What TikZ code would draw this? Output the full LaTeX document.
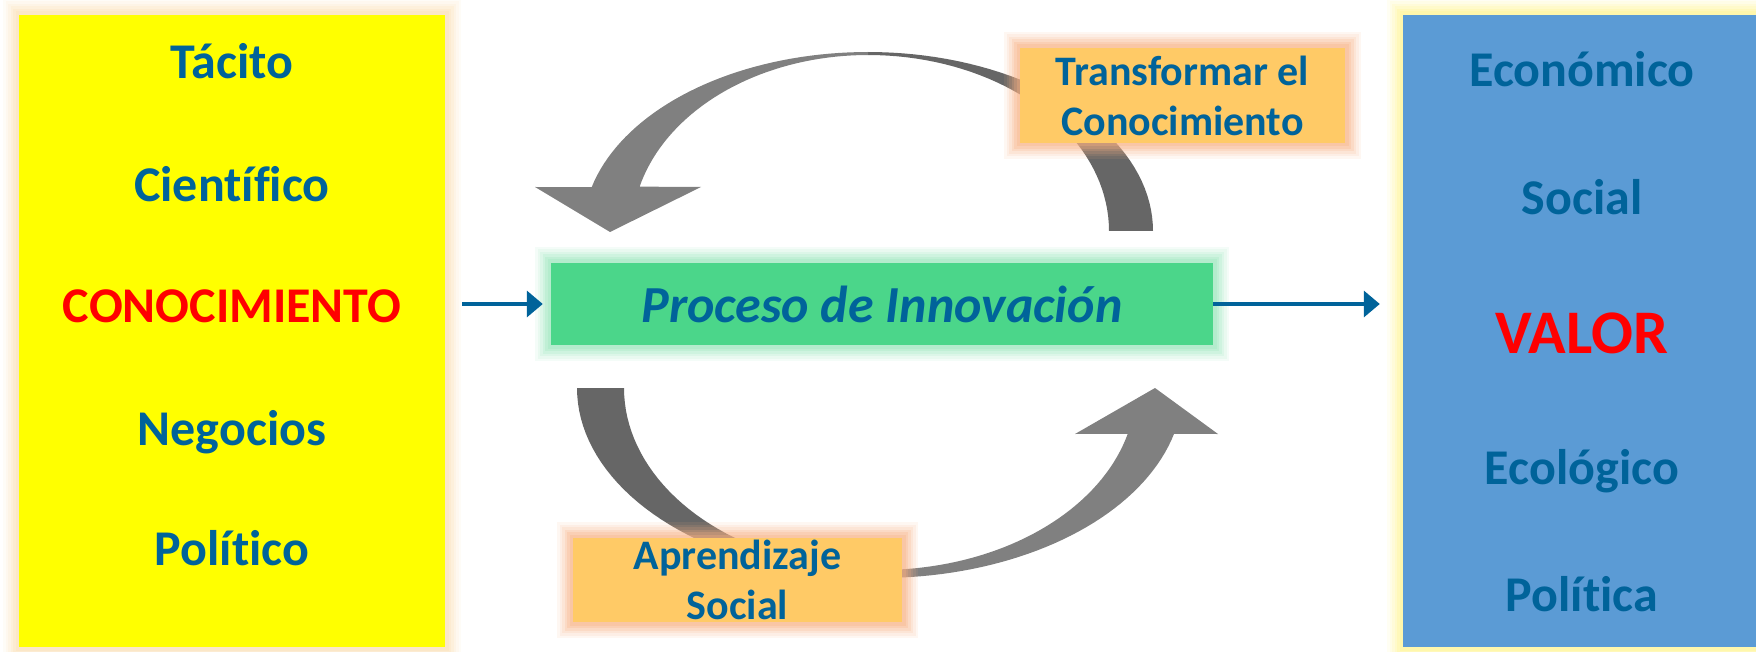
\documentclass[tikz,border=0pt]{standalone}
\usepackage{fontspec}
\setmainfont{Carlito}[Ligatures=NoCommon]
\usepackage{tikz}
\usetikzlibrary{arrows.meta}
\definecolor{textblue}{RGB}{0,99,154}
\definecolor{boxyellow}{RGB}{255,255,0}
\definecolor{boxblue}{RGB}{91,155,213}
\definecolor{boxgreen}{RGB}{75,214,138}
\definecolor{boxorange}{RGB}{255,202,102}
\definecolor{glowpeach}{RGB}{250,222,178}
\definecolor{glowyellow}{RGB}{255,244,140}
\definecolor{glowgreen}{RGB}{150,228,185}
\definecolor{gloworange}{RGB}{247,175,130}
\definecolor{frontgray}{RGB}{128,128,128}
\definecolor{backgray}{RGB}{102,102,102}

\tikzset{
	glow/.style={preaction={draw=#1,line width=32pt,draw opacity=0.1},
		preaction={draw=#1,line width=27pt,draw opacity=0.12},
		preaction={draw=#1,line width=22pt,draw opacity=0.15},
		preaction={draw=#1,line width=17pt,draw opacity=0.2},
		preaction={draw=#1,line width=12pt,draw opacity=0.25},
		preaction={draw=#1,line width=7pt,draw opacity=0.3}},
	panel/.style={rectangle,inner sep=0pt,fill=#1},
	word/.style={anchor=base,text=textblue,font=\fontsize{50}{60}\selectfont\bfseries},
	keyword/.style={anchor=base,text=red,font=\fontsize{#1}{70}\selectfont\bfseries},
	notebox/.style={panel=boxorange,glow=gloworange,align=center,text=textblue,font=\fontsize{42}{50}\selectfont\bfseries},
	link/.style={draw=textblue,line width=3.5pt,-{Triangle[length=16pt,width=26pt]}}
}

\begin{document}
\begin{tikzpicture}[x=1pt,y=-1pt]
	\useasboundingbox (0,0) rectangle (1756,652);
	\node[panel=boxyellow,glow=glowpeach,minimum width=426pt,minimum height=632pt] (conocbox) at (232,331) {};
	\node[panel=boxblue,glow=glowyellow,minimum width=358pt,minimum height=632pt] (valorbox) at (1582,331) {};
	\node[word] (tacito) at (232,79) {Tácito};
	\node[word] (cientifico) at (232,202) {Científico};
	\node[keyword=50] (conocimiento) at (232,323) {CONOCIMIENTO};
	\node[word] (negocios) at (232,445) {Negocios};
	\node[word] (politico) at (232,565) {Político};
	\node[word] (economico) at (1582,87) {Económico};
	\node[word] (social) at (1582,215) {Social};
	\node[keyword=62] (valor) at (1582,353) {VALOR};
	\node[word] (ecologico) at (1582,484) {Ecológico};
	\node[word] (politica) at (1582,611) {Política};
	\fill[backgray] plot[domain=0:-90,samples=40] ({868+285*cos(\x)},{231+179*sin(\x)}) -- plot[domain=-90:0,samples=40] ({868+241*cos(\x)},{231+176*sin(\x)}) -- cycle;
	\fill[frontgray] plot[domain=-90:-165.8,samples=40] ({868+285*cos(\x)},{231+179*sin(\x)}) -- (535,187) -- (610,232) -- (701,187) -- plot[domain=-165.4:-90,samples=40] ({868+236*cos(\x)},{231+176*sin(\x)}) -- cycle;
	\fill[backgray] plot[domain=180:90,samples=40] ({880+303*cos(\x)},{388+190*sin(\x)}) -- plot[domain=90:180,samples=40] ({880+256*cos(\x)},{388+182*sin(\x)}) -- cycle;
	\fill[frontgray] plot[domain=90:14,samples=40] ({880+303*cos(\x)},{388+190*sin(\x)}) -- (1218,434) -- (1155,388) -- (1075,434) -- plot[domain=14.6:90,samples=40] ({880+256*cos(\x)},{388+182*sin(\x)}) -- cycle;
	\node[panel=boxgreen,glow=glowgreen,minimum width=662pt,minimum height=82pt,text=textblue,font=\fontsize{52}{60}\selectfont\bfseries\itshape] (proceso) at (882,304) {Proceso de Innovación};
	\node[notebox,minimum width=325pt,minimum height=95pt] (transformar) at (1182.5,95.5) {Transformar el\\Conocimiento};
	\node[notebox,minimum width=329pt,minimum height=84pt] (aprendizaje) at (737.5,580) {Aprendizaje\\Social};
	\draw[link,shorten <=17pt,shorten >=8pt] (conocbox.east |- proceso.west) -- (proceso.west);
	\draw[link,shorten >=23pt] (proceso.east) -- (valorbox.west |- proceso.east);
\end{tikzpicture}
\end{document}
